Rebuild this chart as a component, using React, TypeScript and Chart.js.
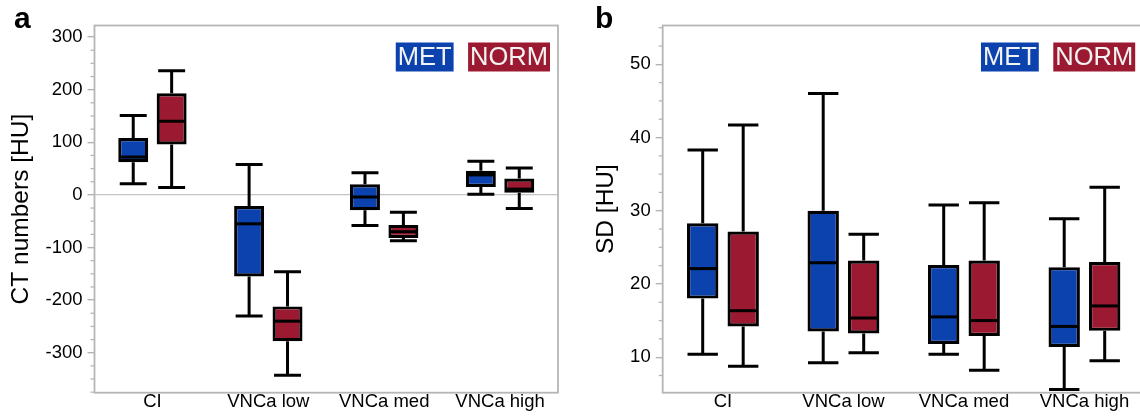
import React, { useEffect, useRef } from 'react';
import { Chart, registerables } from 'chart.js';

Chart.register(...registerables);

const FONT = '"Liberation Sans", Arial, Helvetica, sans-serif';
Chart.defaults.font.family = FONT;

// ---------- shared data ----------
const categories = ['CI', 'VNCa low', 'VNCa med', 'VNCa high'];
const groupNames = ['MET', 'NORM'];
const groupColors = ['#0b42ad', '#9c1a31'];

// ---------- panel a : CT numbers [HU] ----------
const ctMetMin = [21, -230, -58, 1];
const ctMetQ1 = [62, -155, -29, 15];
const ctMetMedian = [72, -55, -4, 38];
const ctMetQ3 = [108, -21, 20, 46];
const ctMetMax = [151, 58, 42, 64];

const ctNormMin = [14, -343, -87, -26];
const ctNormQ1 = [96, -278, -82, 4];
const ctNormMedian = [140, -240, -70, 11];
const ctNormQ3 = [193, -212, -57, 31];
const ctNormMax = [236, -146, -33, 51];

const ctTicks = [-300, -200, -100, 0, 100, 200, 300];
const ctMinorStep = 25;
const ctMin = -376;
const ctMax = 322;

// ---------- panel b : SD [HU] ----------
const sdMetMin = [10.4, 9.25, 10.4, 5.6];
const sdMetQ1 = [18.0, 13.5, 11.8, 11.4];
const sdMetMedian = [22.1, 22.9, 15.5, 14.2];
const sdMetQ3 = [28.3, 30.0, 22.6, 22.3];
const sdMetMax = [38.3, 46.0, 30.8, 28.9];

const sdNormMin = [8.75, 10.6, 8.2, 9.5];
const sdNormQ1 = [14.2, 13.25, 12.9, 13.6];
const sdNormMedian = [16.35, 15.35, 15.0, 17.0];
const sdNormQ3 = [27.15, 23.2, 23.2, 23.0];
const sdNormMax = [41.7, 26.8, 31.1, 33.2];

const sdTicks = [10, 20, 30, 40, 50];
const sdMinorStep = 2.5;
const sdMin = 5.15;
const sdMax = 55.3;

type Stats = { min: number[]; q1: number[]; median: number[]; q3: number[]; max: number[] };

const LINE_W = 3;

const boxPlotPlugin = {
  id: 'boxPlot',
  beforeDatasetsDraw(chart: any, _args: any, opts: any) {
    const { ctx, chartArea } = chart;
    const y = chart.scales.y;
    ctx.save();
    // frame
    ctx.strokeStyle = '#b6b6b6';
    ctx.lineWidth = 1.8;
    ctx.strokeRect(chartArea.left, chartArea.top, chartArea.right - chartArea.left, chartArea.bottom - chartArea.top);
    // minor ticks
    ctx.lineWidth = 1.3;
    const step = opts.minorStep;
    for (let v = Math.ceil(y.min / step) * step; v <= y.max; v += step) {
      if (opts.majorTicks.includes(v)) continue;
      const py = y.getPixelForValue(v);
      ctx.beginPath();
      ctx.moveTo(chartArea.left - 4, py);
      ctx.lineTo(chartArea.left, py);
      ctx.stroke();
    }
    // whiskers
    ctx.strokeStyle = '#000';
    ctx.lineWidth = LINE_W;
    chart.data.datasets.forEach((ds: any, di: number) => {
      const s: Stats = ds.stats;
      const meta = chart.getDatasetMeta(di);
      meta.data.forEach((bar: any, i: number) => {
        const { x, width } = bar.getProps(['x', 'width'], true);
        const cap = width - opts.capInset;
        const yMin = y.getPixelForValue(s.min[i]);
        const yMax = y.getPixelForValue(s.max[i]);
        const yQ1 = y.getPixelForValue(s.q1[i]);
        const yQ3 = y.getPixelForValue(s.q3[i]);
        ctx.beginPath();
        ctx.moveTo(x, yMax);
        ctx.lineTo(x, yQ3);
        ctx.moveTo(x, yQ1);
        ctx.lineTo(x, yMin);
        ctx.moveTo(x - cap / 2, yMax);
        ctx.lineTo(x + cap / 2, yMax);
        ctx.moveTo(x - cap / 2, yMin);
        ctx.lineTo(x + cap / 2, yMin);
        ctx.stroke();
      });
    });
    ctx.restore();
  },
  afterDatasetsDraw(chart: any, _args: any, opts: any) {
    const { ctx, chartArea } = chart;
    const y = chart.scales.y;
    ctx.save();
    ctx.strokeStyle = '#000';
    ctx.lineWidth = LINE_W;
    chart.data.datasets.forEach((ds: any, di: number) => {
      const s: Stats = ds.stats;
      const meta = chart.getDatasetMeta(di);
      meta.data.forEach((bar: any, i: number) => {
        const { x, width } = bar.getProps(['x', 'width'], true);
        const ym = y.getPixelForValue(s.median[i]);
        ctx.beginPath();
        ctx.moveTo(x - width / 2 + 1.5, ym);
        ctx.lineTo(x + width / 2 - 1.5, ym);
        ctx.stroke();
      });
    });
    // legend: coloured boxes with white labels
    ctx.font = `25.5px ${FONT}`;
    ctx.textBaseline = 'middle';
    ctx.textAlign = 'left';
    const top = chartArea.top + 17;
    const h = 29;
    let right = chartArea.right - opts.legendInset;
    const ds = chart.data.datasets;
    for (let k = ds.length - 1; k >= 0; k--) {
      const label = ds[k].label;
      const w = ctx.measureText(label).width + 4;
      const left = right - w;
      ctx.fillStyle = ds[k].backgroundColor;
      ctx.fillRect(left, top, w, h);
      ctx.fillStyle = '#f3f3f3';
      ctx.fillText(label, left + 2, top + h / 2 + 1);
      right = left - 14.5;
    }
    ctx.restore();
  },
};

type PanelSpec = {
  width: number;
  title: string;
  series: Stats[];
  ticks: number[];
  minorStep: number;
  min: number;
  max: number;
  yAxisWidth: number;
  padRight: number;
  titlePad: number;
  catPct: number;
  barPct: number;
  capInset: number;
  zeroLine: boolean;
  legendInset: number;
};

function makeConfig(p: PanelSpec): any {
  return {
    type: 'bar',
    data: {
      labels: categories,
      datasets: p.series.map((s, k) => ({
        label: groupNames[k],
        data: s.q1.map((v, i) => [v, s.q3[i]]),
        backgroundColor: groupColors[k],
        borderColor: '#000',
        borderWidth: 3.2,
        borderSkipped: false,
        categoryPercentage: p.catPct,
        barPercentage: p.barPct,
        stats: s,
      })),
    },
    options: {
      responsive: false,
      animation: false,
      events: [],
      layout: { padding: { left: 0, right: p.padRight, top: 25.5, bottom: 0 } },
      plugins: {
        legend: { display: false },
        tooltip: { enabled: false },
        boxPlot: {
          minorStep: p.minorStep,
          majorTicks: p.ticks,
          capInset: p.capInset,
          legendInset: p.legendInset,
        },
      },
      scales: {
        x: {
          grid: { display: false, drawTicks: false },
          border: { display: false },
          ticks: {
            color: '#000',
            font: { family: FONT, size: 18.5, lineHeight: 1 },
            padding: 0,
            maxRotation: 0,
            autoSkip: false,
          },
          afterFit: (s: any) => {
            s.height = 24.3;
          },
        },
        y: {
          min: p.min,
          max: p.max,
          afterBuildTicks: (s: any) => {
            s.ticks = p.ticks.map((v) => ({ value: v }));
          },
          afterFit: (s: any) => {
            s.width = p.yAxisWidth;
          },
          grid: {
            drawOnChartArea: p.zeroLine,
            color: (c: any) => (c.tick && c.tick.value === 0 ? '#c4c4c4' : 'rgba(0,0,0,0)'),
            lineWidth: 1.3,
            tickColor: '#b3b3b3',
            tickLength: 7,
            tickWidth: 1.4,
          },
          border: { display: false },
          ticks: {
            color: '#000',
            font: { family: FONT, size: 18.5 },
            padding: 5,
            callback: (v: any) => String(v),
          },
          title: {
            display: true,
            text: p.title,
            color: '#000',
            font: { family: FONT, size: 24.5 },
            padding: { top: p.titlePad, bottom: 0 },
          },
        },
      },
    },
    plugins: [boxPlotPlugin],
  };
}

const panelA: PanelSpec = {
  width: 570,
  title: 'CT numbers [HU]',
  series: [
    { min: ctMetMin, q1: ctMetQ1, median: ctMetMedian, q3: ctMetQ3, max: ctMetMax },
    { min: ctNormMin, q1: ctNormQ1, median: ctNormMedian, q3: ctNormQ3, max: ctNormMax },
  ],
  ticks: ctTicks,
  minorStep: ctMinorStep,
  min: ctMin,
  max: ctMax,
  yAxisWidth: 94.5,
  padRight: 12,
  titlePad: 6.3,
  catPct: 0.663,
  barPct: 0.78,
  capInset: 3,
  zeroLine: true,
  legendInset: 8,
};

const panelB: PanelSpec = {
  width: 580,
  title: 'SD [HU]',
  series: [
    { min: sdMetMin, q1: sdMetQ1, median: sdMetMedian, q3: sdMetQ3, max: sdMetMax },
    { min: sdNormMin, q1: sdNormQ1, median: sdNormMedian, q3: sdNormQ3, max: sdNormMax },
  ],
  ticks: sdTicks,
  minorStep: sdMinorStep,
  min: sdMin,
  max: sdMax,
  yAxisWidth: 92.7,
  padRight: 5.3,
  titlePad: 21.3,
  catPct: 0.672,
  barPct: 0.775,
  capInset: 1,
  zeroLine: false,
  legendInset: 9.5,
};

function Panel({ spec, left }: { spec: PanelSpec; left: number }) {
  const ref = useRef<HTMLCanvasElement | null>(null);
  useEffect(() => {
    if (!ref.current) return;
    const chart = new Chart(ref.current, makeConfig(spec));
    return () => chart.destroy();
  }, [spec]);
  return (
    <canvas
      ref={ref}
      width={spec.width}
      height={417}
      style={{ position: 'absolute', left, top: 0, width: spec.width, height: 417 }}
    />
  );
}

const letterStyle: React.CSSProperties = {
  position: 'absolute',
  top: 3,
  fontFamily: FONT,
  fontWeight: 'bold',
  fontSize: 30,
  lineHeight: '30px',
  color: '#000',
};

export default function App() {
  return (
    <div
      style={{
        position: 'fixed',
        left: 0,
        top: 0,
        width: 1140,
        height: 417,
        overflow: 'hidden',
        background: '#fff',
      }}
    >
      <Panel spec={panelA} left={0} />
      <Panel spec={panelB} left={570} />
      <div style={{ ...letterStyle, left: 14 }}>a</div>
      <div style={{ ...letterStyle, left: 595 }}>b</div>
    </div>
  );
}
